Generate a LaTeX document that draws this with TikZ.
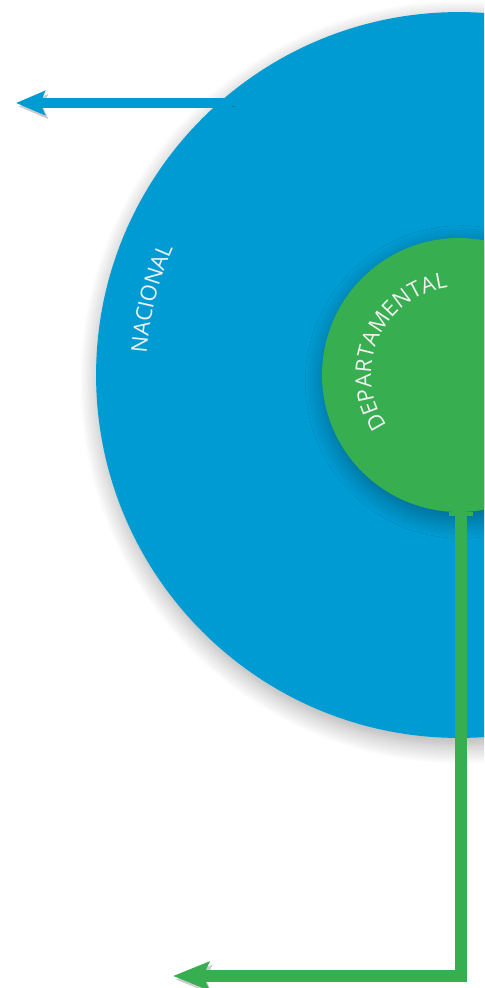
\documentclass[tikz,border=0pt]{standalone}
\usepackage{fontspec}
\setmainfont{Open Sans}
\usetikzlibrary{arrows.meta,shadows.blur,decorations.text}
\definecolor{nacblue}{HTML}{009BD3}
\definecolor{depgreen}{HTML}{37AE4F}
\tikzset{
  level/.style={circle,inner sep=0pt,draw=none,
    blur shadow={shadow xshift=1.5pt,shadow yshift=-4pt,shadow blur radius=11pt,shadow blur steps=16,shadow opacity=35}},
  trail/.style={line join=miter,
    preaction={draw=black,opacity=0.2,transform canvas={shift={(1.5pt,-2pt)}}}},
  levelname/.style={decorate,decoration={text along path,text align=center,
    text={|\color{white!94!black}\fontsize{12.5}{12.5}\selectfont|#1}}}
}
\begin{document}
\begin{tikzpicture}[x=0.02cm,y=0.02cm]
\useasboundingbox (0,0) rectangle (484,988);
\clip (0,0) rectangle (484,988);
% outer level
\node[level,fill=nacblue,minimum size=14.52cm] (nacional) at (459,613) {};
\coordinate (nac-root) at (232,885);
\coordinate (nac-tip) at (16,885);
\draw[trail,nacblue,line width=0.2cm,-{Stealth[length=0.58cm,width=0.48cm,inset=0.1cm]}]
  (nac-root) -- (nac-tip);
\draw[nacblue,line width=0.08cm] (nac-root) ++(-2,5) -- ++(0,-17);
\path[levelname=NACIONAL] (nacional.center) ++(185:313) arc (185:147:313);
% inner level
\node[level,fill=depgreen,minimum size=5.48cm] (departamental) at (459,613) {};
\coordinate (dep-bend) at (461,12);
\coordinate (dep-tip) at (173,12);
\draw[trail,depgreen,line width=0.24cm,-{Stealth[length=0.72cm,width=0.56cm,inset=0.12cm]}]
  (departamental.south) ++(2,0) -- (dep-bend) -- (dep-tip);
\draw[depgreen,line width=0.08cm] (departamental.south) ++(-10,-2) -- ++(24,0);
\path[levelname=DEPARTAMENTAL] (departamental.center) ++(220:88) arc (220:92:88);
\end{tikzpicture}
\end{document}
